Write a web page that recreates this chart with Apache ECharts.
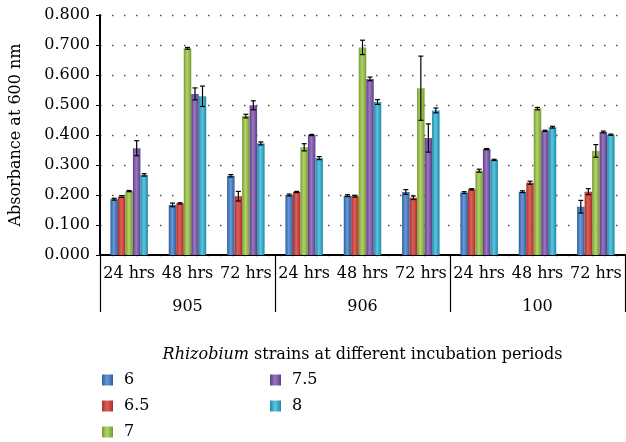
<!DOCTYPE html>
<html>
<head>
<meta charset="utf-8">
<script src="https://cdn.jsdelivr.net/npm/echarts@6/dist/echarts.min.js"></script>
<style>
  html, body { margin: 0; padding: 0; background: #fff; }
  #chart { width: 626px; height: 442px; }
</style>
</head>
<body>
<div id="chart"></div>
<script>
const periods = ['24 hrs', '48 hrs', '72 hrs', '24 hrs', '48 hrs', '72 hrs', '24 hrs', '48 hrs', '72 hrs']
const strains = ['905', '906', '100']
const phNames = ['6', '6.5', '7', '7.5', '8']

// absorbance means per pH
const ph6 = [0.186, 0.167, 0.264, 0.200, 0.198, 0.210, 0.208, 0.211, 0.161]
const ph65 = [0.195, 0.172, 0.196, 0.210, 0.196, 0.191, 0.219, 0.241, 0.211]
const ph7 = [0.213, 0.689, 0.463, 0.359, 0.692, 0.556, 0.281, 0.488, 0.347]
const ph75 = [0.356, 0.537, 0.499, 0.400, 0.587, 0.390, 0.353, 0.414, 0.410]
const ph8 = [0.267, 0.529, 0.372, 0.323, 0.510, 0.482, 0.317, 0.426, 0.401]

// error (+/-) per pH
const err6 = [0.003, 0.006, 0.004, 0.003, 0.003, 0.008, 0.003, 0.003, 0.021]
const err65 = [0.003, 0.002, 0.016, 0.002, 0.003, 0.006, 0.002, 0.005, 0.010]
const err7 = [0.002, 0.003, 0.006, 0.012, 0.024, 0.107, 0.005, 0.004, 0.021]
const err75 = [0.025, 0.020, 0.015, 0.002, 0.006, 0.047, 0.002, 0.002, 0.003]
const err8 = [0.004, 0.034, 0.005, 0.005, 0.008, 0.008, 0.002, 0.003, 0.002]

const yTicks = [0, 0.1, 0.2, 0.3, 0.4, 0.5, 0.6, 0.7, 0.8]

const values = [ph6, ph65, ph7, ph75, ph8]
const errors = [err6, err65, err7, err75, err8]
const colors = [
  ['#2c5e9e', '#6a9ad6', '#2c5e9e'],
  ['#a8302c', '#e0605a', '#a8302c'],
  ['#779a32', '#b2d46a', '#779a32'],
  ['#5e3d88', '#9a78c2', '#5e3d88'],
  ['#1f8aa8', '#5cc6e0', '#1f8aa8']
]
const barW = 7.5
const font = 'DejaVu Serif'
const fs = 16

const chart = echarts.init(document.getElementById('chart'))

function grad(c) {
  return new echarts.graphic.LinearGradient(0, 0, 1, 0, [
    { offset: 0, color: c[0] },
    { offset: 0.45, color: c[1] },
    { offset: 1, color: c[2] }
  ])
}

const barSeries = phNames.map((name, i) => ({
  name: name,
  type: 'bar',
  barWidth: barW,
  barGap: '0%',
  itemStyle: { color: grad(colors[i]) },
  data: values[i],
  z: 2
}))

const errSeries = phNames.map((name, i) => ({
  type: 'custom',
  name: name + ' err',
  z: 5,
  data: values[i].map((v, k) => [k, v - errors[i][k], v + errors[i][k]]),
  renderItem(params, api) {
    const x = api.coord([api.value(0), 0])[0] + (i - 2) * barW
    const lo = api.coord([api.value(0), api.value(1)])[1]
    const hi = api.coord([api.value(0), api.value(2)])[1]
    const cap = 2.5
    const st = { stroke: '#000', lineWidth: 1.2 }
    return {
      type: 'group',
      children: [
        { type: 'line', shape: { x1: x, y1: lo, x2: x, y2: hi }, style: st },
        { type: 'line', shape: { x1: x - cap, y1: lo, x2: x + cap, y2: lo }, style: st },
        { type: 'line', shape: { x1: x - cap, y1: hi, x2: x + cap, y2: hi }, style: st }
      ]
    }
  }
}))

const legendBase = {
  orient: 'vertical',
  top: 365,
  height: 80,
  icon: 'rect',
  itemWidth: 11,
  itemHeight: 11,
  itemGap: 6,
  textStyle: { fontFamily: font, fontSize: fs, lineHeight: 20, color: '#000', padding: [0, 0, 0, 6] }
}

chart.setOption({
  animation: false,
  textStyle: { fontFamily: font, color: '#000' },
  grid: { left: 99, right: 1, top: 15, bottom: 187 },
  legend: [
    Object.assign({}, legendBase, { data: ['6', '6.5', '7'], left: 97 }),
    Object.assign({}, legendBase, { data: ['7.5', '8'], left: 265 })
  ],
  xAxis: [{
    type: 'category',
    data: periods,
    axisLine: { lineStyle: { color: '#000', width: 2 } },
    axisTick: { show: false },
    axisLabel: { fontFamily: font, fontSize: fs, color: '#000', margin: 11, interval: 0 }
  }, {
    type: 'category',
    data: strains,
    position: 'bottom',
    axisLine: { show: false },
    axisTick: { show: true, length: 57, lineStyle: { color: '#000', width: 1.2 } },
    axisLabel: { fontFamily: font, fontSize: fs, color: '#000', margin: 44 },
    name: '{i|Rhizobium} strains at different incubation periods',
    nameLocation: 'middle',
    nameGap: 92,
    nameTextStyle: {
      fontFamily: font, fontSize: fs, color: '#000',
      rich: { i: { fontFamily: font, fontSize: fs, fontStyle: 'italic', color: '#000' } }
    }
  }],
  yAxis: {
    type: 'value',
    min: 0,
    max: 0.8,
    interval: 0.1,
    name: 'Absorbance at 600 nm',
    nameLocation: 'middle',
    nameGap: 76,
    nameTextStyle: { fontFamily: font, fontSize: fs, color: '#000' },
    axisLine: { show: true, lineStyle: { color: '#000', width: 2 } },
    axisTick: { show: true, length: 4, lineStyle: { color: '#000' } },
    axisLabel: {
      fontFamily: font, fontSize: fs, color: '#000', margin: 10,
      formatter: v => yTicks.includes(Math.round(v * 10) / 10) ? v.toFixed(3) : ''
    },
    splitLine: { lineStyle: { color: '#555', type: [1.5, 10.5], width: 1.3 } }
  },
  series: barSeries.concat(errSeries)
})
</script>
</body>
</html>
